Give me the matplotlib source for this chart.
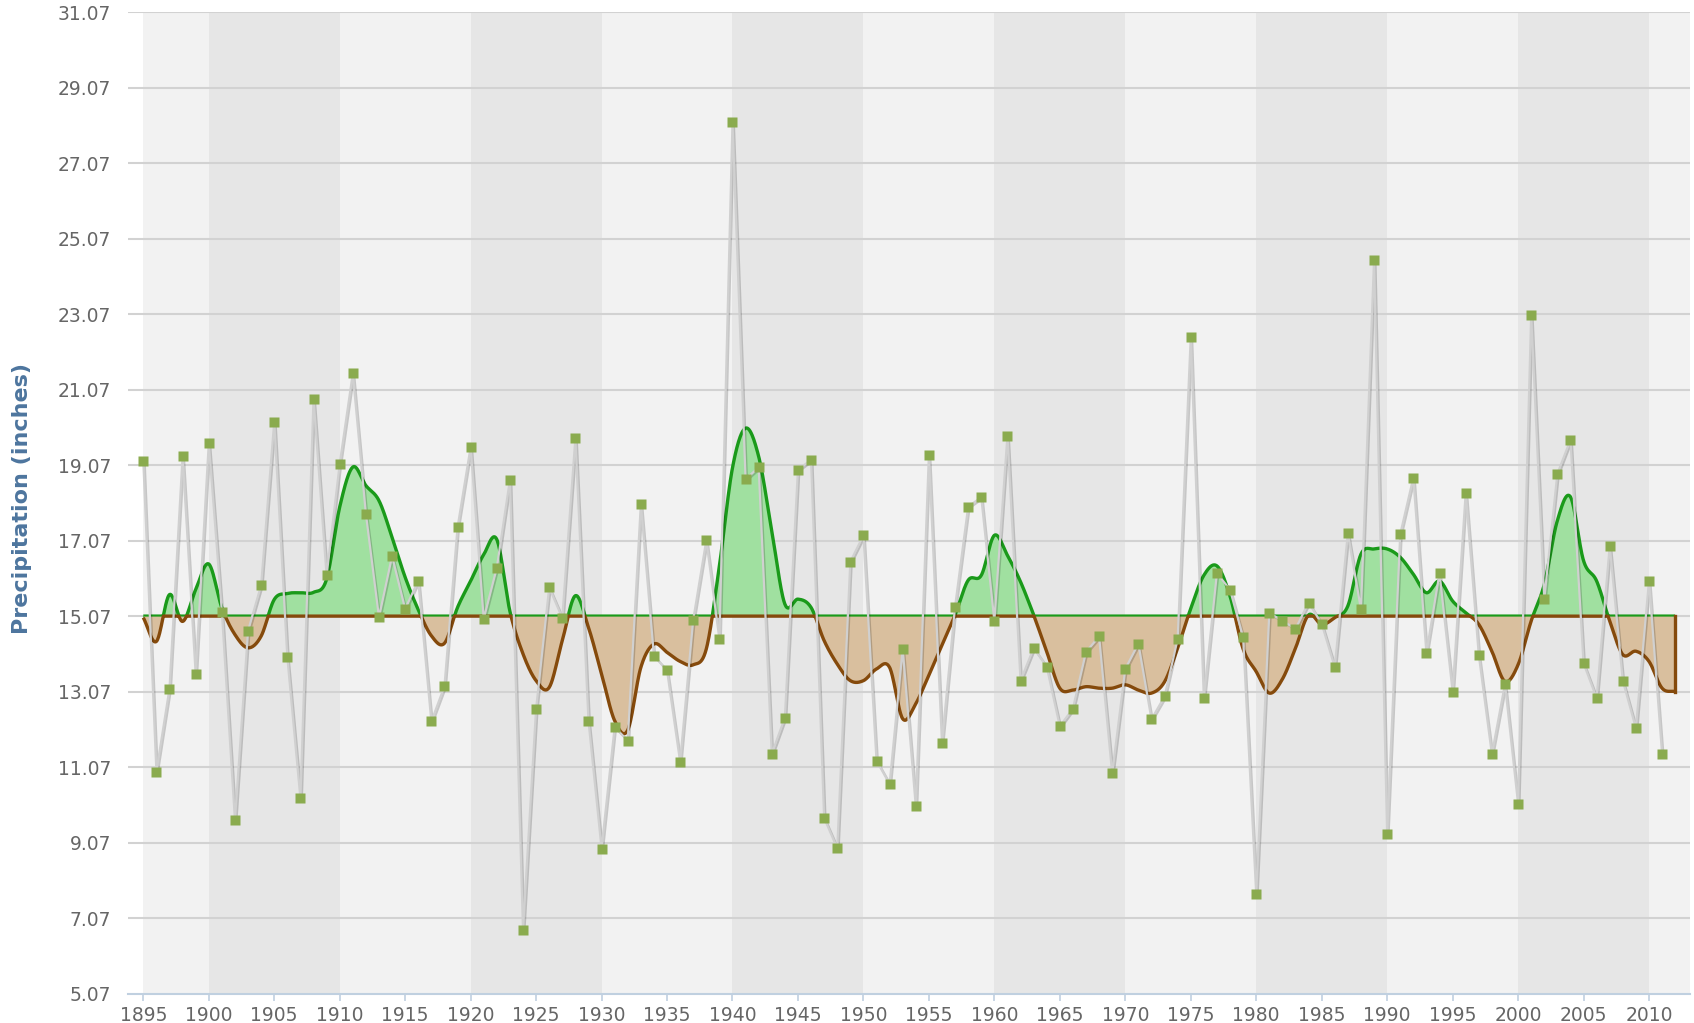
import numpy as np
import matplotlib
matplotlib.use("Agg")
import matplotlib.pyplot as plt
import matplotlib.patheffects as pe

# ---------------- data ----------------
years = list(range(1895, 2012))
precip = [19.18, 10.95, 13.15, 19.30, 13.54, 19.65, 15.19, 9.66, 14.68, 15.89,
          20.22, 13.98, 10.24, 20.83, 16.15, 19.10, 21.50, 17.78, 15.04, 16.66,
          15.26, 16.01, 12.28, 13.21, 17.42, 19.55, 15.00, 16.35, 18.68, 6.76,
          12.61, 15.83, 15.02, 19.78, 12.30, 8.91, 12.13, 11.77, 18.04, 14.02,
          13.63, 11.21, 14.97, 17.08, 14.46, 28.15, 18.70, 19.01, 11.42, 12.38,
          18.95, 19.21, 9.72, 8.92, 16.51, 17.21, 11.24, 10.62, 14.20, 10.03,
          19.34, 11.72, 15.32, 17.97, 18.22, 14.95, 19.85, 13.36, 14.22, 13.73,
          12.15, 12.62, 14.12, 14.53, 10.90, 13.67, 14.34, 12.34, 12.94, 14.46,
          22.46, 12.90, 16.21, 15.77, 14.51, 7.71, 15.15, 14.95, 14.73, 15.43,
          14.87, 13.72, 17.27, 15.25, 24.51, 9.29, 17.24, 18.74, 14.09, 16.21,
          13.07, 18.34, 14.04, 11.41, 13.27, 10.10, 23.05, 15.52, 18.84, 19.74,
          13.82, 12.90, 16.93, 13.36, 12.10, 16.01, 11.42]

smooth_years = list(range(1895, 2013))
smooth_vals = [15.03, 14.40, 15.64, 14.93, 15.77, 16.45, 15.29, 14.58, 14.23, 14.54,
               15.51, 15.67, 15.69, 15.70, 16.05, 17.96, 19.02, 18.53, 18.13, 17.16,
               16.10, 15.24, 14.55, 14.35, 15.30, 16.00, 16.70, 17.10, 15.20, 14.07,
               13.36, 13.18, 14.42, 15.61, 14.77, 13.54, 12.30, 12.05, 13.71, 14.33,
               14.11, 13.87, 13.78, 14.20, 16.40, 19.00, 20.05, 19.30, 17.33, 15.39,
               15.52, 15.30, 14.42, 13.80, 13.36, 13.36, 13.67, 13.71, 12.35, 12.75,
               13.51, 14.30, 15.10, 16.02, 16.15, 17.21, 16.68, 15.98, 15.10, 14.13,
               13.16, 13.11, 13.20, 13.16, 13.16, 13.25, 13.11, 13.03, 13.33, 14.22,
               15.27, 16.15, 16.40, 15.60, 14.20, 13.60, 13.03, 13.40, 14.22, 15.10,
               14.85, 15.03, 15.34, 16.71, 16.85, 16.85, 16.63, 16.18, 15.69, 16.00,
               15.47, 15.16, 14.85, 14.14, 13.34, 13.78, 14.94, 15.91, 17.60, 18.23,
               16.54, 16.00, 14.94, 14.05, 14.14, 13.87, 13.16, 13.07]

baseline = 15.07
y_ticks = [5.07, 7.07, 9.07, 11.07, 13.07, 15.07, 17.07, 19.07, 21.07, 23.07,
           25.07, 27.07, 29.07, 31.07]
x_ticks = list(range(1895, 2011, 5))
band_starts = [1900, 1920, 1940, 1960, 1980, 2000]
y_label = "Precipitation (inches)"


def hermite_curve(x, y, n=24):
    """Catmull-Rom style cubic Hermite rendering of a curve through points."""
    x = np.asarray(x, float)
    y = np.asarray(y, float)
    m = np.gradient(y, x)
    xs, ys = [], []
    t = np.linspace(0, 1, n, endpoint=False)
    h00 = 2 * t**3 - 3 * t**2 + 1
    h10 = t**3 - 2 * t**2 + t
    h01 = -2 * t**3 + 3 * t**2
    h11 = t**3 - t**2
    for i in range(len(x) - 1):
        h = x[i + 1] - x[i]
        xs.append(x[i] + t * h)
        ys.append(h00 * y[i] + h10 * h * m[i] + h01 * y[i + 1] + h11 * h * m[i + 1])
    xs.append([x[-1]])
    ys.append([y[-1]])
    return np.concatenate(xs), np.concatenate(ys)


W, H = 1694, 1023
fig = plt.figure(figsize=(W / 100, H / 100), dpi=100)
left_px, right_px, top_px, bottom_px = 128, 1690, 12.3, 993.5
ax = fig.add_axes([left_px / W, 1 - bottom_px / H,
                   (right_px - left_px) / W, (bottom_px - top_px) / H])

x_min = 1895 - (143.3 - left_px) / 13.093
x_max = 1895 + (right_px - 143.3) / 13.093
ax.set_xlim(x_min, x_max)
ax.set_ylim(5.07, 31.07)

# plot bands
ax.axvspan(1895, x_max, color="#f2f2f2", zorder=0, lw=0)
for b in band_starts:
    ax.axvspan(b, min(b + 10, x_max), color="#e6e6e6", zorder=0.1, lw=0)

# grid lines
for yt in y_ticks[1:]:
    ax.axhline(yt, color="#d2d2d2", lw=1.5, zorder=0.5)

# smoothed curve with green / brown fill
sx, sy = hermite_curve(smooth_years, smooth_vals)
upper = np.maximum(sy, baseline)
lower = np.minimum(sy, baseline)
ax.fill_between(sx, baseline, upper, color="#a0e0a0", lw=0, zorder=1)
ax.plot(sx, upper, color="#1a9a1a", lw=2.4, zorder=1.5, solid_capstyle="butt")
ax.fill_between(sx, lower, baseline, color="#d9bf9e", lw=0, zorder=2)
ax.plot(sx, lower, color="#854a0c", lw=2.4, zorder=2.5, solid_capstyle="butt")
ax.plot([smooth_years[-1], smooth_years[-1]], [smooth_vals[-1], baseline],
        color="#854a0c", lw=2.4, zorder=2.5)

# raw series line with shadow + markers
ax.plot(years, precip, color="#d0d0d0", lw=1.6, zorder=3,
        path_effects=[pe.SimpleLineShadow(offset=(1, -1), shadow_color="k", alpha=0.18),
                      pe.Normal()])
ax.plot(years, precip, ls="none", marker="s", ms=7.5, mfc="#8aab4e", mec="none",
        zorder=4)

# axes styling
for s in ["top", "right", "left"]:
    ax.spines[s].set_visible(False)
ax.spines["bottom"].set_color("#c0d0e0")
ax.spines["bottom"].set_linewidth(1.5)
ax.spines["bottom"].set_zorder(5)
ax.set_xticks(x_ticks)
ax.set_xticklabels([str(v) for v in x_ticks])
ax.set_yticks(y_ticks)
ax.set_yticklabels(["%.2f" % v for v in y_ticks])
ax.tick_params(axis="x", colors="#c0d0e0", length=5, width=1.2, pad=4,
               labelcolor="#666666", labelsize=13.5)
ax.tick_params(axis="y", length=0, pad=12, labelcolor="#666666", labelsize=13.5)

fig.text(22 / W, 1 - 499 / H, y_label, rotation=90, ha="center", va="center",
         color="#4d759e", fontsize=16, fontweight="bold")

fig.savefig("out.png", dpi=100)
